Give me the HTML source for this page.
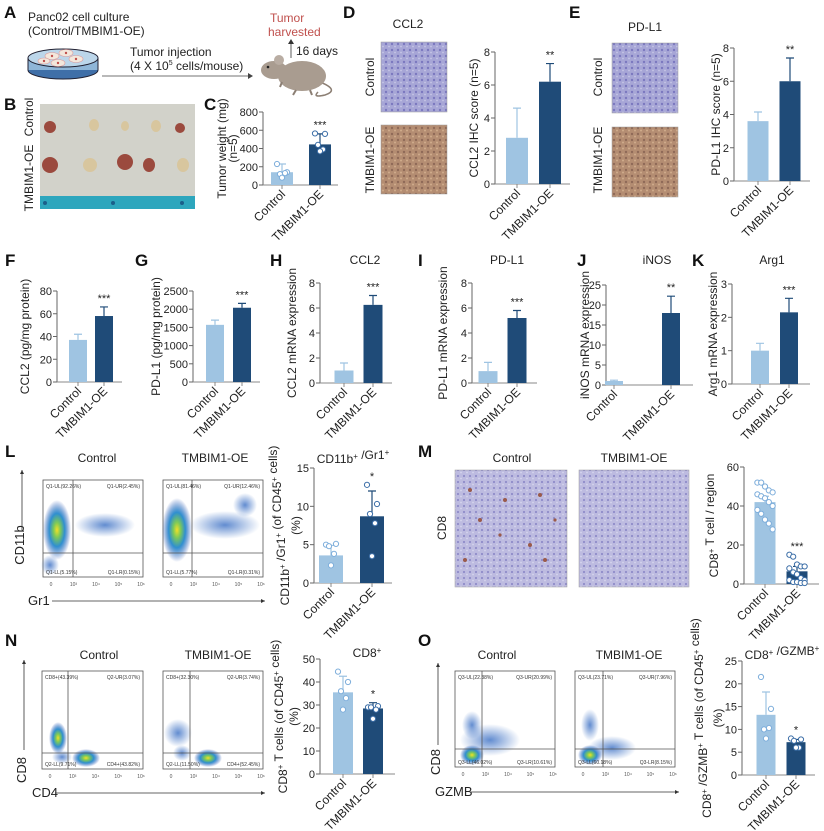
<!DOCTYPE html>
<html><head><meta charset="utf-8"><style>
html,body{margin:0;padding:0;background:#fff}
svg{display:block;font-family:"Liberation Sans",Arial,sans-serif}
</style></head><body>
<svg id="fig" width="824" height="831" viewBox="0 0 824 831" xmlns="http://www.w3.org/2000/svg">
<defs>
<radialGradient id="flow" cx="50%" cy="50%" r="50%">
<stop offset="0" stop-color="#f2e027"/><stop offset="0.25" stop-color="#7cc95a"/><stop offset="0.55" stop-color="#2f8fd0"/><stop offset="1" stop-color="#2a50b0" stop-opacity="0"/></radialGradient>
<radialGradient id="flowb" cx="50%" cy="50%" r="50%">
<stop offset="0" stop-color="#3a6fc4" stop-opacity="0.8"/><stop offset="1" stop-color="#3a6fc4" stop-opacity="0"/></radialGradient>
<pattern id="ihcBlue" width="6" height="6" patternUnits="userSpaceOnUse"><rect width="6" height="6" fill="#a7a6d6"/><circle cx="2" cy="2" r="1.2" fill="#7b78bf"/><circle cx="5" cy="4.5" r="0.9" fill="#c7c6e6"/></pattern>
<pattern id="ihcBrown" width="6" height="6" patternUnits="userSpaceOnUse"><rect width="6" height="6" fill="#b48d72"/><circle cx="2" cy="2" r="1.2" fill="#8f6a58"/><circle cx="5" cy="4.5" r="1" fill="#d1ad8c"/></pattern>
<pattern id="ihcLav" width="6" height="6" patternUnits="userSpaceOnUse"><rect width="6" height="6" fill="#bdbbe0"/><circle cx="2" cy="2" r="1.1" fill="#8f8cc9"/><circle cx="5" cy="4.5" r="0.9" fill="#d6d5ee"/></pattern>
</defs>

<g font-weight="bold" font-size="17" fill="#111">
<text x="4" y="18">A</text><text x="4" y="110">B</text><text x="204" y="110">C</text>
<text x="343" y="18">D</text><text x="569" y="18">E</text>
<text x="5" y="266">F</text><text x="135" y="266">G</text><text x="270" y="266">H</text>
<text x="418" y="266">I</text><text x="577" y="266">J</text><text x="692" y="266">K</text>
<text x="5" y="457">L</text><text x="418" y="457">M</text>
<text x="5" y="646">N</text><text x="418" y="646">O</text>
</g>

<g font-size="12" fill="#222">
<text x="28" y="21">Panc02 cell culture</text>
<text x="28" y="35">(Control/TMBIM1-OE)</text>
<ellipse cx="63" cy="70" rx="35" ry="9" fill="#3f6fa8" stroke="#223" stroke-width="1"/>
<rect x="28" y="58" width="70" height="12" fill="#8fb6d8"/>
<ellipse cx="63" cy="58" rx="35" ry="9" fill="#bcd6ea" stroke="#223" stroke-width="1"/>
<line x1="28" y1="58" x2="28" y2="70" stroke="#223"/><line x1="98" y1="58" x2="98" y2="70" stroke="#223"/>
<g fill="#f3e7dc" stroke="#d99" stroke-width="0.6">
<ellipse cx="52" cy="56" rx="7" ry="3.5"/><ellipse cx="66" cy="53" rx="7" ry="3.5"/><ellipse cx="76" cy="59" rx="7" ry="3.5"/><ellipse cx="58" cy="63" rx="7" ry="3.5"/><ellipse cx="44" cy="61" rx="6" ry="3"/></g>
<g fill="#c0504d"><circle cx="52" cy="56" r="1.2"/><circle cx="66" cy="53" r="1.2"/><circle cx="76" cy="59" r="1.2"/><circle cx="58" cy="63" r="1.2"/><circle cx="44" cy="61" r="1.2"/></g>
<line x1="102" y1="76" x2="248" y2="76" stroke="#444" stroke-width="0.8"/>
<path d="M248 73 L253 76 L248 79Z" fill="#444"/>
<text x="130" y="56">Tumor injection</text>
<text x="130" y="70">(4 X 10<tspan font-size="7" dy="-5">5</tspan><tspan dy="5"> cells/mouse)</tspan></text>
<text x="270" y="22" fill="#c0504d">Tumor</text>
<text x="268" y="36" fill="#c0504d">harvested</text>
<line x1="291" y1="58" x2="291" y2="42" stroke="#333" stroke-width="0.8"/>
<path d="M288 44 L291 39 L294 44Z" fill="#333"/>
<text x="296" y="55">16 days</text>
<g>
<path d="M320 82 Q340 90 325 95 Q312 98 318 92" fill="none" stroke="#8c7f74" stroke-width="1.5"/>
<ellipse cx="302" cy="76" rx="24" ry="15" fill="#a99c90"/>
<ellipse cx="274" cy="70" rx="13" ry="9" fill="#a99c90"/>
<circle cx="279" cy="60" r="5" fill="#b9ada3"/>
<circle cx="268" cy="67" r="1.3" fill="#222"/>
<path d="M296 90 l-3 5 M310 90 l2 5 M282 82 l-2 5" stroke="#8c7f74" stroke-width="2"/>
</g>
</g>

<g>
<rect x="40" y="104" width="155" height="105" fill="#d2d2ca"/>
<rect x="40" y="196" width="155" height="13" fill="#2da6bd"/>
<g fill="#1a5f8a"><circle cx="45" cy="203" r="2"/><circle cx="113" cy="203" r="2"/><circle cx="182" cy="203" r="2"/></g>
<g fill="#9b4a3e"><ellipse cx="50" cy="127" rx="6" ry="6"/><ellipse cx="180" cy="128" rx="5" ry="5"/><ellipse cx="50" cy="165" rx="8" ry="8"/><ellipse cx="125" cy="162" rx="8" ry="8"/><ellipse cx="149" cy="165" rx="6" ry="7"/></g>
<g fill="#d8c69e"><ellipse cx="94" cy="125" rx="5" ry="6"/><ellipse cx="125" cy="126" rx="4" ry="5"/><ellipse cx="156" cy="126" rx="5" ry="6"/><ellipse cx="90" cy="165" rx="7" ry="7"/><ellipse cx="183" cy="165" rx="6" ry="7"/></g>
<text transform="translate(33,117) rotate(-90)" font-size="12" text-anchor="middle" fill="#222">Control</text>
<text transform="translate(33,178) rotate(-90)" font-size="12" text-anchor="middle" fill="#222">TMBIM1-OE</text>
</g>

<g font-size="12" fill="#222">
<text x="408" y="28" text-anchor="middle">CCL2</text>
<rect x="381" y="42" width="66" height="70" fill="url(#ihcBlue)" stroke="#999" stroke-width="0.5"/>
<rect x="381" y="125" width="66" height="69" fill="url(#ihcBrown)" stroke="#999" stroke-width="0.5"/>
<text transform="translate(374,77) rotate(-90)" text-anchor="middle">Control</text>
<text transform="translate(374,160) rotate(-90)" text-anchor="middle">TMBIM1-OE</text>
<text x="645" y="31" text-anchor="middle">PD-L1</text>
<rect x="612" y="43" width="66" height="70" fill="url(#ihcBlue)" stroke="#999" stroke-width="0.5"/>
<rect x="612" y="127" width="66" height="70" fill="url(#ihcBrown)" stroke="#999" stroke-width="0.5"/>
<text transform="translate(602,77) rotate(-90)" text-anchor="middle">Control</text>
<text transform="translate(602,160) rotate(-90)" text-anchor="middle">TMBIM1-OE</text>
<text x="512" y="462" text-anchor="middle">Control</text>
<text x="634" y="462" text-anchor="middle">TMBIM1-OE</text>
<rect x="455" y="470" width="112" height="117" fill="url(#ihcLav)" stroke="#999" stroke-width="0.5"/>
<rect x="579" y="470" width="110" height="117" fill="url(#ihcLav)" stroke="#999" stroke-width="0.5"/>
<g fill="#9a5a4a"><circle cx="470" cy="490" r="2"/><circle cx="505" cy="500" r="2"/><circle cx="540" cy="495" r="2"/><circle cx="480" cy="520" r="2"/><circle cx="530" cy="545" r="2"/><circle cx="545" cy="560" r="2"/><circle cx="465" cy="560" r="2"/><circle cx="500" cy="535" r="1.6"/><circle cx="555" cy="520" r="1.6"/></g>
<text transform="translate(446,528) rotate(-90)" text-anchor="middle">CD8</text>
</g>

<g id="flows"></g>
<g id="charts"></g>
</svg>
<script>
const cats = ['Control', 'TMBIM1-OE'];
const C_means = [140, 445]; const C_sd = [90, 115]; const C_ticks = [0, 200, 400, 600, 800];
const C_ptsCtrl = [230, 140, 120, 130, 80]; const C_ptsOE = [565, 560, 440, 390, 370];
const D_means = [2.8, 6.2]; const D_sd = [1.8, 1.1]; const D_ticks = [0, 2, 4, 6, 8];
const E_means = [3.6, 6.0]; const E_sd = [0.55, 1.4]; const E_ticks = [0, 2, 4, 6, 8];
const F_means = [37, 58]; const F_sd = [5, 8]; const F_ticks = [0, 20, 40, 60, 80];
const G_means = [1570, 2040]; const G_sd = [130, 120]; const G_ticks = [0, 500, 1000, 1500, 2000, 2500];
const H_means = [1.0, 6.25]; const H_sd = [0.6, 0.75]; const H_ticks = [0, 2, 4, 6, 8];
const I_means = [0.95, 5.2]; const I_sd = [0.7, 0.6]; const I_ticks = [0, 2, 4, 6, 8];
const J_means = [1.0, 18]; const J_sd = [0.2, 4.2]; const J_ticks = [0, 5, 10, 15, 20, 25];
const K_means = [1.0, 2.15]; const K_sd = [0.22, 0.42]; const K_ticks = [0, 1, 2, 3];
const L_means = [3.6, 8.7]; const L_sd = [1.3, 3.3]; const L_ticks = [0, 5, 10, 15];
const L_ptsCtrl = [5.0, 5.1, 4.8, 3.8, 2.3]; const L_ptsOE = [12.8, 10.3, 9.0, 7.8, 3.5];
const M_means = [42, 6.5]; const M_sd = [3, 2.5]; const M_ticks = [0, 20, 40, 60];
const M_ptsCtrl = [52, 52, 50, 48, 47, 46, 45, 44, 42, 40, 38, 36, 33, 31, 28];
const M_ptsOE = [15, 14, 10, 9, 9, 8, 6, 5, 3, 2, 2, 1, 1, 0.5, 0.5];
const N_means = [35.5, 28.5]; const N_sd = [7, 2.5]; const N_ticks = [0, 10, 20, 30, 40, 50];
const N_ptsCtrl = [44.5, 40, 36, 33, 28]; const N_ptsOE = [29, 29.5, 29, 28, 24];
const O_means = [13.2, 7.2]; const O_sd = [5, 0.6]; const O_ticks = [0, 5, 10, 15, 20, 25];
const O_ptsCtrl = [21.5, 14.5, 10, 10.3, 8]; const O_ptsOE = [8, 7.8, 7.5, 6, 6];

const NS = 'http://www.w3.org/2000/svg';
function mk(parent, tag, attrs, text) {
  const e = document.createElementNS(NS, tag);
  for (const k in attrs) e.setAttribute(k, attrs[k]);
  if (text !== undefined) e.textContent = text;
  parent.appendChild(e);
  return e;
}
const LIGHT = '#9fc4e2', DARK = '#1f4b78';
const jit5 = [-5, 5, -2, 3, 0];

function chart(name, G, means, sds, ticks, ptsC, ptsO, sig, ylab, title) {
  const root = document.getElementById('charts');
  const g = mk(root, 'g', {});
  
  
  const max = ticks[ticks.length - 1];
  const y = v => G.y0 - v / max * (G.y0 - G.yt);
  const ax = mk(g, 'line', {x1: G.ax, y1: G.y0, x2: G.ax, y2: G.yt, stroke: '#666', 'stroke-width': 1});
  
  
  ticks.forEach(t => {
    mk(g, 'line', {x1: G.ax - 4, y1: y(t), x2: G.ax, y2: y(t), stroke: '#666'});
    const tl = mk(g, 'text', {x: G.ax - 5, y: y(t) + 4, 'text-anchor': 'end', 'font-size': 11, fill: '#222'}, t);
    
    
  });
  const xa = mk(g, 'line', {x1: G.ax, y1: G.y0, x2: G.xe, y2: G.y0, stroke: '#888', 'stroke-width': 1});
  
  
  means.forEach((m, i) => {
    const cx = G.c[i];
    const b = mk(g, 'rect', {x: cx - G.w / 2, y: y(m), width: G.w, height: G.y0 - y(m), fill: i ? DARK : LIGHT});
    
    
    const top = y(m + sds[i]);
    const eb = mk(g, 'path', {d: `M${cx} ${y(m)} V${top} M${cx - 4} ${top} H${cx + 4}`, stroke: i ? DARK : LIGHT, 'stroke-width': 1.2, fill: 'none'});
    
    
    mk(g, 'line', {x1: cx, y1: G.y0, x2: cx, y2: G.y0 + 4, stroke: '#888'});
    const xl = mk(g, 'text', {transform: `translate(${cx + 4},${G.y0 + 10}) rotate(-45)`, 'text-anchor': 'end', 'font-size': 12, fill: '#222'}, cats[i]);
    
    
    const pts = i ? ptsO : ptsC;
    if (pts) pts.forEach((p, k) => {
      const off = pts.length > 5 ? ((k % 5) - 2) * (G.w / 5.5) : jit5[k];
      const c = mk(g, 'circle', {cx: cx + off, cy: y(p), r: 2.6, fill: '#fff', stroke: i ? '#3d6fa8' : '#7eaedb', 'stroke-width': 1});
      
      
    });
  });
  let topVal = means[1] + sds[1];
  if (ptsO) topVal = Math.max(topVal, Math.max(...ptsO));
  const st = mk(g, 'text', {x: G.c[1], y: y(topVal) - 5, 'text-anchor': 'middle', 'font-size': 11, fill: '#222'}, sig);
  
  
  const cy = (G.y0 + G.yt) / 2;
  ylab.forEach((ln, k) => {
    const t = mk(g, 'text', {transform: `translate(${G.lx + k * 11},${cy}) rotate(-90)`, 'text-anchor': 'middle', 'font-size': 12, fill: '#222'});
    t.innerHTML = ln;
    
    
  });
  if (title) {
    const tt = mk(g, 'text', {x: title.x, y: title.y, 'text-anchor': 'middle', 'font-size': 12, fill: '#222'});
    tt.innerHTML = title.t;
    
    
  }
}
const sup = s => `<tspan font-size="8" dy="-4">${s}</tspan><tspan dy="4"></tspan>`;

chart('chart-c', {ax: 263, xe: 338, y0: 185, yt: 112, c: [282, 320], w: 22, lx: 226}, C_means, C_sd, C_ticks, C_ptsCtrl, C_ptsOE, '***', ['Tumor weight (mg)', '(n=5)']);
chart('chart-d', {ax: 495, xe: 570, y0: 184, yt: 52, c: [517, 550], w: 22, lx: 478}, D_means, D_sd, D_ticks, null, null, '**', ['CCL2 IHC score (n=5)']);
chart('chart-e', {ax: 734, xe: 810, y0: 181, yt: 48, c: [758, 790], w: 21, lx: 720}, E_means, E_sd, E_ticks, null, null, '**', ['PD-L1 IHC score (n=5)']);
chart('chart-f', {ax: 57, xe: 122, y0: 382, yt: 291, c: [78, 104], w: 18, lx: 29}, F_means, F_sd, F_ticks, null, null, '***', ['CCL2 (pg/mg protein)']);
chart('chart-g', {ax: 193, xe: 260, y0: 382, yt: 291, c: [215, 242], w: 18, lx: 160}, G_means, G_sd, G_ticks, null, null, '***', ['PD-L1 (pg/mg protein)']);
chart('chart-h', {ax: 320, xe: 392, y0: 383, yt: 283, c: [344, 373], w: 19, lx: 296}, H_means, H_sd, H_ticks, null, null, '***', ['CCL2 mRNA expression'], {x: 365, y: 264, t: 'CCL2'});
chart('chart-i', {ax: 472, xe: 537, y0: 383, yt: 283, c: [488, 517], w: 19, lx: 447}, I_means, I_sd, I_ticks, null, null, '***', ['PD-L1 mRNA expression'], {x: 507, y: 264, t: 'PD-L1'});
chart('chart-j', {ax: 606, xe: 693, y0: 385, yt: 285, c: [614, 671], w: 18, lx: 589}, J_means, J_sd, J_ticks, null, null, '**', ['iNOS mRNA expression'], {x: 657, y: 264, t: 'iNOS'});
chart('chart-k', {ax: 732, xe: 810, y0: 384, yt: 284, c: [760, 789], w: 18, lx: 717}, K_means, K_sd, K_ticks, null, null, '***', ['Arg1 mRNA expression'], {x: 772, y: 264, t: 'Arg1'});
chart('chart-l', {ax: 314, xe: 392, y0: 583, yt: 468, c: [331, 372], w: 24, lx: 289}, L_means, L_sd, L_ticks, L_ptsCtrl, L_ptsOE, '*', ['CD11b' + sup('+') + ' /Gr1' + sup('+') + ' (of CD45' + sup('+') + ' cells)', '(%)'], {x: 353, y: 463, t: 'CD11b' + sup('+') + ' /Gr1' + sup('+')});
chart('chart-m', {ax: 744, xe: 819, y0: 584, yt: 467, c: [765, 797], w: 21, lx: 718}, M_means, M_sd, M_ticks, M_ptsCtrl, M_ptsOE, '***', ['CD8' + sup('+') + ' T cell / region']);
chart('chart-n', {ax: 320, xe: 395, y0: 774, yt: 659, c: [343, 373], w: 20, lx: 287}, N_means, N_sd, N_ticks, N_ptsCtrl, N_ptsOE, '*', ['CD8' + sup('+') + ' T cells (of CD45' + sup('+') + ' cells)', '(%)'], {x: 367, y: 657, t: 'CD8' + sup('+')});
chart('chart-o', {ax: 742, xe: 815, y0: 775, yt: 661, c: [766, 796], w: 19, lx: 711}, O_means, O_sd, O_ticks, O_ptsCtrl, O_ptsOE, '*', ['CD8' + sup('+') + ' /GZMB' + sup('+') + ' T cells (of CD45' + sup('+') + ' cells)', '(%)'], {x: 782, y: 659, t: 'CD8' + sup('+') + ' /GZMB' + sup('+')});

function flow(name, x, y, w, h, vx, hy, q, blobs) {
  const root = document.getElementById('flows');
  const g = mk(root, 'g', {});
  
  
  mk(g, 'rect', {x: x, y: y, width: w, height: h, fill: '#fff', stroke: '#555', 'stroke-width': 0.8});
  blobs.forEach(b => mk(g, 'ellipse', {cx: b[0], cy: b[1], rx: b[2], ry: b[3], fill: b[4] ? 'url(#flow)' : 'url(#flowb)'}));
  mk(g, 'line', {x1: vx, y1: y, x2: vx, y2: y + h, stroke: '#555', 'stroke-width': 0.8});
  mk(g, 'line', {x1: x, y1: hy, x2: x + w, y2: hy, stroke: '#555', 'stroke-width': 0.8});
  const fs = 5;
  mk(g, 'text', {x: x + 3, y: y + 8, 'font-size': fs, fill: '#333'}, q[0]);
  mk(g, 'text', {x: x + w - 3, y: y + 8, 'font-size': fs, fill: '#333', 'text-anchor': 'end'}, q[1]);
  mk(g, 'text', {x: x + 3, y: y + h - 3, 'font-size': fs, fill: '#333'}, q[2]);
  mk(g, 'text', {x: x + w - 3, y: y + h - 3, 'font-size': fs, fill: '#333', 'text-anchor': 'end'}, q[3]);
  ['0', '10³', '10⁴', '10⁵', '10⁶'].forEach((t, k) => mk(g, 'text', {x: x + 8 + k * (w - 10) / 4, y: y + h + 9, 'font-size': 5, fill: '#555', 'text-anchor': 'middle'}, t));
}
flow('flow-l-control', 43, 480, 100, 97, 73, 553, ['Q1-UL(92.26%)', 'Q1-UR(2.45%)', 'Q1-LL(5.15%)', 'Q1-LR(0.15%)'],
  [[57, 530, 14, 30, 1], [105, 525, 30, 12, 0], [50, 565, 9, 10, 0]]);
flow('flow-l-oe', 163, 480, 100, 97, 192, 553, ['Q1-UL(81.46%)', 'Q1-UR(12.46%)', 'Q1-LL(5.77%)', 'Q1-LR(0.31%)'],
  [[177, 530, 15, 32, 1], [225, 525, 35, 14, 0], [245, 505, 12, 12, 0]]);
flow('flow-n-control', 42, 671, 101, 98, 68, 753, ['CD8+(43.39%)', 'Q2-UR(3.07%)', 'Q2-LL(9.71%)', 'CD4+(43.82%)'],
  [[58, 738, 9, 16, 1], [86, 758, 14, 9, 1], [62, 757, 10, 7, 0]]);
flow('flow-n-oe', 163, 671, 100, 98, 190, 753, ['CD8+(32.30%)', 'Q2-UR(3.74%)', 'Q2-LL(11.50%)', 'CD4+(52.45%)'],
  [[178, 733, 14, 14, 0], [208, 758, 14, 9, 1], [182, 753, 9, 8, 0]]);
flow('flow-o-control', 455, 671, 100, 96, 482, 749, ['Q3-UL(22.38%)', 'Q3-UR(20.99%)', 'Q3-LL(46.02%)', 'Q3-LR(10.61%)'],
  [[472, 755, 12, 10, 1], [490, 740, 30, 16, 0], [472, 725, 10, 14, 0]]);
flow('flow-o-oe', 575, 671, 100, 96, 603, 749, ['Q3-UL(23.71%)', 'Q3-UR(7.96%)', 'Q3-LL(60.18%)', 'Q3-LR(8.15%)'],
  [[590, 755, 12, 10, 1], [590, 725, 9, 16, 0], [612, 748, 24, 12, 0]]);

const fl = document.getElementById('flows');
[['Control', 97, 462], ['TMBIM1-OE', 215, 462], ['Control', 99, 659], ['TMBIM1-OE', 218, 659], ['Control', 497, 659], ['TMBIM1-OE', 629, 659]].forEach(a => {
  const t = mk(fl, 'text', {x: a[1], y: a[2], 'text-anchor': 'middle', 'font-size': 12, fill: '#222'}, a[0]);
  
  
});
[['CD11b', 24, 545, 22, 530, 470, 'Gr1', 28, 605, 52, 265, 601],
 ['CD8', 26, 770, 24, 750, 660, 'CD4', 32, 797, 55, 265, 793],
 ['CD8', 440, 762, 438, 745, 663, 'GZMB', 435, 796, 470, 679, 792]].forEach(a => {
  const t1 = mk(fl, 'text', {transform: `translate(${a[1]},${a[2]}) rotate(-90)`, 'text-anchor': 'middle', 'font-size': 13, fill: '#222'}, a[0]);
  
  
  mk(fl, 'line', {x1: a[3], y1: a[4], x2: a[3], y2: a[5], stroke: '#333', 'stroke-width': 0.8});
  mk(fl, 'path', {d: `M${a[3] - 2} ${a[5] + 4} L${a[3]} ${a[5]} L${a[3] + 2} ${a[5] + 4}Z`, fill: '#333'});
  const t2 = mk(fl, 'text', {x: a[7], y: a[8], 'font-size': 13, fill: '#222'}, a[6]);
  
  
  mk(fl, 'line', {x1: a[9], y1: a[11], x2: a[10], y2: a[11], stroke: '#333', 'stroke-width': 0.8});
  mk(fl, 'path', {d: `M${a[10] - 4} ${a[11] - 2} L${a[10]} ${a[11]} L${a[10] - 4} ${a[11] + 2}Z`, fill: '#333'});
});
</script>
</body></html>
